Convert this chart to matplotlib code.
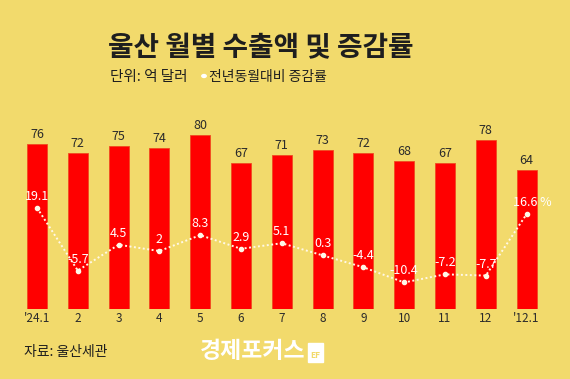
import matplotlib
matplotlib.use("Agg")
import matplotlib.pyplot as plt

plt.rcParams['font.family'] = ['Noto Sans CJK KR', 'DejaVu Sans']

months = ["'24.1", "2", "3", "4", "5", "6", "7", "8", "9", "10", "11", "12", "'12.1"]
exports = [76, 72, 75, 74, 80, 67, 71, 73, 72, 68, 67, 78, 64]
growth = [19.1, -5.7, 4.5, 2, 8.3, 2.9, 5.1, 0.3, -4.4, -10.4, -7.2, -7.7, 16.6]
growth_labels = ["19.1", "-5.7", "4.5", "2", "8.3", "2.9", "5.1", "0.3", "-4.4", "-10.4", "-7.2", "-7.7", "16.6 %"]

BG = '#F2DA6C'
W, H = 570, 379
fig = plt.figure(figsize=(W/100, H/100), dpi=100, facecolor=BG)

def fy(py):
    return (H - py) / H

ax = fig.add_axes([0, fy(309), 1, fy(120) - fy(309)])
ax.set_facecolor('none')
x = list(range(len(months)))
ax.bar(x, exports, width=0.49, color='#FF0000', edgecolor='#F04A20', linewidth=0.6, zorder=2)
ax.set_xlim((0 - 37) / 40.8, (570 - 37) / 40.8)
ax.set_ylim(0, 87)
for xi, v in zip(x, exports):
    ax.annotate(str(v), (xi, v), xytext=(0, 3), textcoords='offset pixels',
                ha='center', va='bottom', fontsize=9, color='#2b2b2b')
ax.set_xticks(x)
ax.set_xticklabels(months, fontsize=8.5, color='#2b2b2b')
ax.tick_params(axis='x', length=0, pad=2)
ax.set_yticks([])
for s in ax.spines.values():
    s.set_visible(False)

ax2 = ax.twinx()
ax2.set_ylim(-20.9, 53.8)
ax2.plot(x, growth, color='#FFF8E8', linestyle=(0, (1, 1.3)), linewidth=1.4,
         marker='o', markersize=3, zorder=3)
for xi, v, lab in zip(x, growth, growth_labels):
    ax2.annotate(lab, (xi, v), xytext=(0 if lab[-1] != '%' else 6, 5), textcoords='offset pixels',
                 ha='center', va='bottom', fontsize=9, color='white')
ax2.set_yticks([])
for s in ax2.spines.values():
    s.set_visible(False)

fig.text(261/W, fy(48), '울산 월별 수출액 및 증감률', ha='center', va='center',
         fontsize=20, fontweight='bold', color='#1e1e1e')
fig.text(110/W, fy(77), '단위: 억 달러', ha='left', va='center', fontsize=10.5, color='#1e1e1e')
fig.text(209/W, fy(77), '전년동월대비 증감률', ha='left', va='center', fontsize=10, color='#1e1e1e')
fig.patches.append(plt.Circle((204/W, fy(76)), 2.2/W, transform=fig.transFigure,
                              color='white', figure=fig))
fig.text(24/W, fy(352), '자료: 울산세관', ha='left', va='center', fontsize=10, color='#1e1e1e')
fig.text(200/W, fy(352), '경제포커스', ha='left', va='center', fontsize=16.5,
         fontweight='bold', color='white')
fig.patches.append(plt.Rectangle((308/W, fy(362)), 15/W, 19/H, transform=fig.transFigure,
                                 color='white', figure=fig))
fig.text(315.5/W, fy(355), 'EF', ha='center', va='center', fontsize=6,
         fontweight='bold', color=BG)

fig.savefig('out.png', dpi=100, facecolor=BG)
